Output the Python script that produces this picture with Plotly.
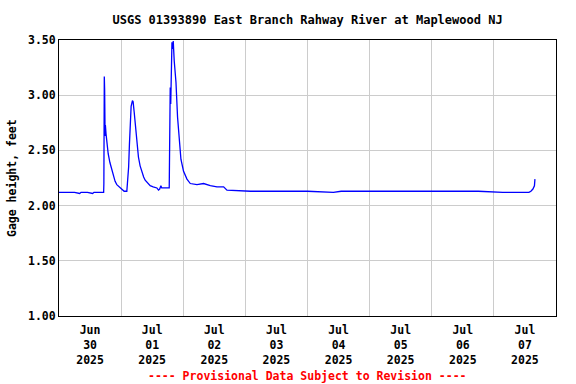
import plotly.graph_objects as go

title = "USGS 01393890 East Branch Rahway River at Maplewood NJ"
ylabel = "Gage height, feet"
note = "---- Provisional Data Subject to Revision ----"

times = [
    "2025-06-30 00:00", "2025-06-30 06:00", "2025-06-30 08:00", "2025-06-30 08:30",
    "2025-06-30 11:00", "2025-06-30 13:00", "2025-06-30 13:30", "2025-06-30 17:15",
    "2025-06-30 17:20", "2025-06-30 17:30", "2025-06-30 17:38", "2025-06-30 17:48",
    "2025-06-30 17:55", "2025-06-30 18:10", "2025-06-30 18:35", "2025-06-30 19:00",
    "2025-06-30 19:40", "2025-06-30 20:20", "2025-06-30 21:00", "2025-06-30 21:40",
    "2025-06-30 22:20", "2025-06-30 23:10", "2025-07-01 00:18", "2025-07-01 00:48",
    "2025-07-01 01:10", "2025-07-01 02:12", "2025-07-01 02:26", "2025-07-01 02:54",
    "2025-07-01 03:12", "2025-07-01 03:40", "2025-07-01 03:52", "2025-07-01 04:22",
    "2025-07-01 04:38", "2025-07-01 05:02", "2025-07-01 05:25", "2025-07-01 06:04",
    "2025-07-01 06:41", "2025-07-01 07:20", "2025-07-01 08:00", "2025-07-01 08:42",
    "2025-07-01 09:17", "2025-07-01 10:15", "2025-07-01 11:13", "2025-07-01 12:23",
    "2025-07-01 13:49", "2025-07-01 14:26", "2025-07-01 14:54", "2025-07-01 15:22",
    "2025-07-01 15:41", "2025-07-01 18:35", "2025-07-01 18:46", "2025-07-01 18:58",
    "2025-07-01 19:10", "2025-07-01 19:26", "2025-07-01 19:38", "2025-07-01 19:57",
    "2025-07-01 20:08", "2025-07-01 20:31", "2025-07-01 21:11", "2025-07-01 21:48",
    "2025-07-01 22:27", "2025-07-01 23:06", "2025-07-02 00:07", "2025-07-02 01:26",
    "2025-07-02 02:43", "2025-07-02 05:18", "2025-07-02 07:52", "2025-07-02 10:27",
    "2025-07-02 13:02", "2025-07-02 15:36", "2025-07-02 16:53", "2025-07-03 02:00",
    "2025-07-03 12:00", "2025-07-04 00:00", "2025-07-04 10:00", "2025-07-04 13:00",
    "2025-07-04 20:00", "2025-07-05 06:00", "2025-07-05 18:00", "2025-07-06 06:00",
    "2025-07-06 18:00", "2025-07-07 03:28", "2025-07-07 08:00", "2025-07-07 13:32",
    "2025-07-07 14:18", "2025-07-07 15:05", "2025-07-07 15:40", "2025-07-07 15:52",
]
gage = [
    2.12, 2.12, 2.11, 2.12,
    2.12, 2.11, 2.12, 2.12,
    2.20, 3.17, 3.05, 2.63,
    2.73, 2.65, 2.55, 2.47,
    2.39, 2.33, 2.27, 2.22,
    2.19, 2.17, 2.15, 2.14,
    2.13, 2.13, 2.20, 2.35,
    2.55, 2.75, 2.90, 2.95,
    2.94, 2.85, 2.75, 2.55,
    2.44, 2.36, 2.30, 2.26,
    2.23, 2.20, 2.18, 2.17,
    2.16, 2.14, 2.15, 2.18,
    2.16, 2.16, 2.45, 3.07,
    2.92, 3.35, 3.48, 3.42,
    3.49, 3.31, 3.12, 2.80,
    2.57, 2.42, 2.31, 2.24,
    2.20, 2.19, 2.20, 2.18,
    2.17, 2.17, 2.14, 2.13,
    2.13, 2.13, 2.12, 2.13,
    2.13, 2.13, 2.13, 2.13,
    2.13, 2.12, 2.12, 2.12,
    2.13, 2.15, 2.18, 2.24,
]

label_days = ["2025-06-30 12:00", "2025-07-01 12:00", "2025-07-02 12:00", "2025-07-03 12:00",
              "2025-07-04 12:00", "2025-07-05 12:00", "2025-07-06 12:00", "2025-07-07 12:00"]
label_text = ["Jun<br>30<br>2025", "Jul<br>01<br>2025", "Jul<br>02<br>2025", "Jul<br>03<br>2025",
              "Jul<br>04<br>2025", "Jul<br>05<br>2025", "Jul<br>06<br>2025", "Jul<br>07<br>2025"]
y_ticks = [1.0, 1.5, 2.0, 2.5, 3.0, 3.5]
y_text = ["1.00", "1.50", "2.00", "2.50", "3.00", "3.50"]

font = dict(family="DejaVu Sans Mono", size=11.5, color="black", weight="bold")

fig = go.Figure()
fig.add_trace(go.Scatter(x=times, y=gage, mode="lines", line=dict(color="#0000ff", width=1.3),
                         showlegend=False, hoverinfo="skip"))

fig.update_layout(
    width=576, height=384,
    margin=dict(l=59, r=20, t=40, b=68),
    paper_bgcolor="white", plot_bgcolor="white",
    font=font,
    title=dict(text=title, x=0.534, xanchor="center", y=1 - 20 / 384, yanchor="middle",
               yref="container", font=dict(family="DejaVu Sans Mono", size=12, color="black", weight="bold")),
    xaxis=dict(
        type="date", range=["2025-06-30 00:00", "2025-07-08 00:00"],
        tickmode="array", tickvals=label_days, ticktext=label_text,
        showgrid=False, ticks="", showline=True, linecolor="black", linewidth=1, mirror=True,
        minor=dict(tick0="2025-06-30", dtick=86400000, showgrid=True, gridcolor="#cccccc",
                   gridwidth=1, ticks=""),
        zeroline=False, tickfont=font, ticklabelstandoff=3,
    ),
    yaxis=dict(
        range=[1.0, 3.5], tickmode="array", tickvals=y_ticks, ticktext=y_text,
        showgrid=True, gridcolor="#cccccc", gridwidth=1, ticks="",
        showline=True, linecolor="black", linewidth=1, mirror=True, zeroline=False,
        tickfont=font,
    ),
    annotations=[
        dict(text=ylabel, xref="paper", yref="paper", x=(12 - 59) / 497, y=0.5,
             xanchor="center", yanchor="middle", textangle=-90, showarrow=False, font=font),
        dict(text=note, xref="paper", yref="paper", x=0.5, y=(316 - 376) / 276,
             xanchor="center", yanchor="middle", showarrow=False,
             font=dict(family="DejaVu Sans Mono", size=11.5, color="#ff0000", weight="bold")),
    ],
)

fig.write_html("out.html", config={"displayModeBar": False},
               post_script="document.body.style.margin='0';document.body.style.overflow='hidden';")
